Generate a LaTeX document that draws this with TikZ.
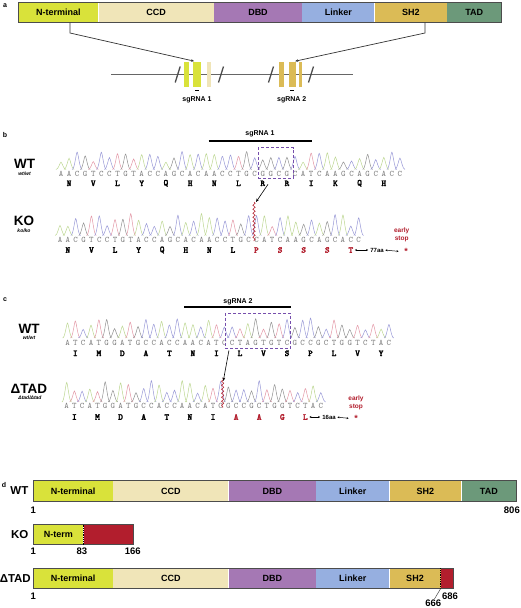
\documentclass[tikz,border=0pt]{standalone}
\usepackage{fontspec}
\setmainfont{Liberation Sans}
\newfontfamily\aafont[FakeBold=2.5]{lmmonolt10-bold.otf}
\usepackage{tikz}
\usetikzlibrary{arrows.meta,positioning,decorations.pathmorphing}

\definecolor{ntermcol}{RGB}{217,226,58}
\definecolor{ccdcol}{RGB}{240,229,184}
\definecolor{dbdcol}{RGB}{165,120,180}
\definecolor{linkcol}{RGB}{150,175,224}
\definecolor{shcol}{RGB}{219,187,86}
\definecolor{tadcol}{RGB}{108,153,122}
\definecolor{stopred}{RGB}{178,30,45}
\definecolor{boxpurple}{RGB}{118,78,172}
\definecolor{baseA}{RGB}{188,214,145}
\definecolor{baseC}{RGB}{152,152,214}
\definecolor{baseG}{RGB}{145,145,145}
\definecolor{baseT}{RGB}{226,150,165}

\newcommand{\fsz}[1]{\fontsize{#1}{#1}\selectfont}

% trace peaks and called bases of one read
\newcommand{\seqtrack}[7]{%
    \foreach \nt [count=\i from 0] in {#7} {
        \pgfmathsetmacro{\px}{#2+#3*\i}
        \pgfmathsetmacro{\pl}{\px-0.62*#3}
        \pgfmathsetmacro{\pr}{\px+0.62*#3}
        \pgfmathsetmacro{\cl}{\px-0.32*#3}
        \pgfmathsetmacro{\cr}{\px+0.32*#3}
        \pgfmathsetmacro{\ca}{\px-0.12*#3}
        \pgfmathsetmacro{\cb}{\px+0.12*#3}
        \pgfmathsetmacro{\ptop}{#4-#5*(0.4+0.6*rnd)}
        \draw[trace, draw=base\nt] (\pl,#4) .. controls (\cl,#4) and (\ca,\ptop) .. (\px,\ptop)
            .. controls (\cb,\ptop) and (\cr,#4) .. (\pr,#4);
        \node[ntletter] (#1-\i) at (\px,#6) {\nt};
    }
}
% translated residues, first one at codon #5
\newcommand{\aarow}[7]{%
    \foreach \res [count=\i from #5] in {#7}
        \node[aaletter, text=#6] (#1-\i) at ({#2+#3*(3*\i+1)},#4) {\res};
}

\tikzset{
    seg/.style={inner sep=0pt, minimum height=20pt, font=\bfseries\fsz{9}},
    barframe/.style={draw=black!70, line width=0.9pt},
    exon/.style={inner sep=0pt, minimum height=25pt},
    geneline/.style={draw=black!60, line width=0.9pt},
    genebreak/.style={draw=black!70, line width=1.3pt},
    link/.style={draw=black!80, line width=0.7pt, shorten >=3pt, -{Stealth[length=3pt,width=2.6pt]}},
    panel/.style={font=\bfseries\fsz{7}},
    guidetext/.style={font=\bfseries\fsz{7}},
    guidebar/.style={draw=black, line width=2pt},
    genotype/.style={font=\bfseries\fsz{13.5}},
    allele/.style={font=\bfseries\itshape\fsz{5}},
    trace/.style={line width=0.5pt},
    ntletter/.style={inner sep=0pt, font=\ttfamily\fsz{8.5}, text=black!50},
    aaletter/.style={inner sep=0pt, font=\aafont\fsz{9}},
    cutbox/.style={draw=boxpurple, densely dashed, line width=0.7pt, inner sep=0pt},
    cutline/.style={draw=stopred, line width=0.6pt, decorate, decoration={snake, amplitude=1.1pt, segment length=4pt}},
    cutarrow/.style={draw=black, line width=0.6pt, -{Stealth[length=3.5pt,width=2.8pt]}},
    spantext/.style={inner sep=0pt, font=\bfseries\fsz{6}},
    spanarrow/.style={draw=black, line width=0.5pt, shorten <=1.5pt, shorten >=2pt, {Stealth[length=2pt,width=2pt]}-{Stealth[length=2pt,width=2pt]}},
    stopstar/.style={inner ysep=0pt, inner xsep=3.5pt, font=\bfseries\fsz{9}, text=stopred},
    stoptext/.style={inner sep=0pt, align=center, font=\bfseries\fontsize{6.5}{8.6}\selectfont, text=stopred},
    rowlabel/.style={inner sep=0pt, font=\bfseries\fsz{11.5}},
    coordlabel/.style={inner sep=0pt, font=\bfseries\fsz{9.5}},
    junction/.style={draw=black, densely dotted, line width=0.8pt},
    leader/.style={draw=black!70, line width=0.5pt},
}

\begin{document}
\begin{tikzpicture}[x=1pt, y=-1pt]
    \useasboundingbox (0,0) rectangle (520,608);
    \pgfmathsetseed{23}

    % a
    \node[panel] (pa) at (5,6) {a};
    \node[seg, fill=ntermcol, minimum width=79.5pt, minimum height=19.5pt, anchor=west] (aN) at (18.5,12.75) {N-terminal};
    \node[seg, fill=ccdcol, minimum width=115pt, minimum height=19.5pt, right=0pt of aN] (aC) {CCD};
    \node[seg, fill=dbdcol, minimum width=88pt, minimum height=19.5pt, right=0pt of aC] (aD) {DBD};
    \node[seg, fill=linkcol, minimum width=72pt, minimum height=19.5pt, right=0pt of aD] (aL) {Linker};
    \node[seg, fill=shcol, minimum width=72pt, minimum height=19.5pt, right=0pt of aL] (aS) {SH2};
    \node[seg, fill=tadcol, minimum width=54pt, minimum height=19.5pt, right=0pt of aS] (aT) {TAD};
    \draw[barframe] (aN.north west) rectangle (aT.south east);

    \draw[geneline] (111,74.7) -- (353,74.7);
    \node[exon, fill=ntermcol, minimum width=5.3pt] (exA) at (186.7,74.5) {};
    \node[exon, fill=ntermcol, minimum width=7.4pt] (exB) at (197,74.5) {};
    \node[exon, fill=ccdcol, minimum width=4pt] (exC) at (209.3,74.5) {};
    \node[exon, fill=shcol, minimum width=5pt] (exD) at (281.8,74.5) {};
    \node[exon, fill=shcol, minimum width=7.3pt] (exE) at (292.3,74.5) {};
    \node[exon, fill=shcol, minimum width=2.7pt] (exF) at (300.7,74.5) {};
    \foreach \bx in {177.7,221,271,311}
        \draw[genebreak] (\bx-2.5,82.5) -- (\bx+2.5,66.5);
    \draw[line width=0.8pt] ([xshift=-2pt]exB.south) ++(0,3.5) -- ++(4,0);
    \draw[line width=0.8pt] ([xshift=-2pt]exE.south) ++(0,3.5) -- ++(4,0);
    \node[guidetext] (gtA) at (197,100) {sgRNA 1};
    \node[guidetext] (gtB) at (291.7,100) {sgRNA 2};

    \coordinate (lknee) at (70,33);
    \coordinate (rknee) at (425,33);
    \draw[link] (lknee |- aN.south) -- (lknee) -- (exB.north);
    \draw[link] (rknee |- aS.south) -- (rknee) -- (exE.north);

    % b
    \node[panel] (pb) at (5,135) {b};
    \node[guidetext] (gtb) at (260,134) {sgRNA 1};
    \draw[guidebar] (208.7,140.7) -- (312,140.7);
    \node[genotype] (wtb) at (24.5,164) {WT};
    \node[allele] (wtba) at (24.5,174) {wt/wt};
    \seqtrack{wsb}{61}{8.07}{169.5}{18}{174.3}{A,A,C,G,T,C,C,T,G,T,A,C,C,A,G,C,A,C,A,A,C,C,T,G,C,G,G,C,G,C,A,T,C,A,A,G,C,A,G,C,A,C,C}
    \aarow{wab}{61}{8.07}{183.3}{0}{black}{N,V,L,Y,Q,H,N,L,R,R,I,K,Q,H}
    \node[cutbox, minimum width=35pt, minimum height=30.6pt] (boxb) at (275.8,163) {};

    \node[genotype] (kob) at (24,220.7) {KO};
    \node[allele] (koba) at (24,230.7) {ko/ko};
    \seqtrack{ksb}{60}{7.86}{235.5}{22}{239.5}{A,A,C,G,T,C,C,T,G,T,A,C,C,A,G,C,A,C,A,A,C,C,T,G,C,C,A,T,C,A,A,G,C,A,G,C,A,C,C}
    \aarow{kab}{60}{7.86}{250}{0}{black}{N,V,L,Y,Q,H,N,L}
    \aarow{kab}{60}{7.86}{250}{8}{stopred}{P,S,S,S,T}
    \coordinate (cutbtop) at (254,202);
    \coordinate (cutbbot) at (254,241);
    \draw[cutline] (cutbtop) -- (cutbbot);
    \draw[cutarrow] ([xshift=-7.8pt,yshift=-5.7pt]boxb.south) -- ([xshift=2pt]cutbtop);
    \node[stoptext] (esb) at (401.7,234.8) {early\\stop};
    \node[spantext] (spanb) at (377,250) {77aa};
    \node[stopstar] (starb) at (406,251.5) {*};
    \draw[spanarrow] (kab-12.east) -- (spanb.west);
    \draw[spanarrow] (spanb.east) -- (starb.west);

    % c
    \node[panel] (pc) at (5,300) {c};
    \node[guidetext] (gtc) at (238,301.7) {sgRNA 2};
    \draw[guidebar] (184.3,307.3) -- (290.7,307.3);
    \node[genotype] (wtc) at (29,329.3) {WT};
    \node[allele] (wtca) at (29,338) {wt/wt};
    \seqtrack{wsc}{67.5}{7.84}{338}{20}{342.7}{A,T,C,A,T,G,G,A,T,G,C,C,A,C,C,A,A,C,A,T,C,C,T,A,G,T,G,T,C,G,C,C,G,C,T,G,G,T,C,T,A,C}
    \aarow{wac}{67.5}{7.84}{353.3}{0}{black}{I,M,D,A,T,N,I,L,V,S,P,L,V,Y}
    \node[cutbox, minimum width=65.4pt, minimum height=35pt] (boxc) at (258,330.8) {};

    \node[genotype] (dtc) at (28.8,389.3) {ΔTAD};
    \node[allele] (dtca) at (30,397.5) {Δtad/Δtad};
    \seqtrack{dsc}{66.7}{7.7}{402}{22}{406}{A,T,C,A,T,G,G,A,T,G,C,C,A,C,C,A,A,C,A,T,C,G,C,C,G,C,T,G,G,T,C,T,A,C}
    \aarow{dac}{66.7}{7.7}{417}{0}{black}{I,M,D,A,T,N,I}
    \aarow{dac}{66.7}{7.7}{417}{7}{stopred}{A,A,G,L}
    \coordinate (cutctop) at (222.7,378);
    \coordinate (cutcbot) at (222.7,407.5);
    \draw[cutline] (cutctop) -- (cutcbot);
    \draw[cutarrow] ([xshift=4pt,yshift=-1.7pt]boxc.south west) -- ([xshift=0.6pt,yshift=-3pt]cutctop);
    \node[stoptext] (esc) at (356,403) {early\\stop};
    \node[spantext] (spanc) at (329,417) {16aa};
    \node[stopstar] (starc) at (356,418.5) {*};
    \draw[spanarrow] (dac-10.east) -- (spanc.west);
    \draw[spanarrow] (spanc.east) -- (starc.west);

    % d
    \node[panel] (pd) at (4,485) {d};
    \node[rowlabel, anchor=east] (wtd) at (28.5,491) {WT};
    \node[seg, fill=ntermcol, minimum width=79.4pt, minimum height=20.6pt, anchor=west] (dN) at (33.3,491) {N-terminal};
    \node[seg, fill=ccdcol, minimum width=115pt, minimum height=20.6pt, right=0pt of dN] (dC) {CCD};
    \node[seg, fill=dbdcol, minimum width=87.3pt, minimum height=20.6pt, right=0pt of dC] (dD) {DBD};
    \node[seg, fill=linkcol, minimum width=72.7pt, minimum height=20.6pt, right=0pt of dD] (dL) {Linker};
    \node[seg, fill=shcol, minimum width=71.6pt, minimum height=20.6pt, right=0pt of dL] (dS) {SH2};
    \node[seg, fill=tadcol, minimum width=54.7pt, minimum height=20.6pt, right=0pt of dS] (dT) {TAD};
    \draw[barframe] (dN.north west) rectangle (dT.south east);
    \node[coordlabel] (dwt1) at (33.3,510) {1};
    \node[coordlabel, anchor=east] (dwt806) at (520,510) {806};

    \node[rowlabel, anchor=east] (kod) at (28.5,534.7) {KO};
    \node[seg, fill=ntermcol, minimum width=49.7pt, anchor=west] (kN) at (33.3,534.7) {N-term};
    \node[seg, fill=stopred, minimum width=50pt, right=0pt of kN] (kX) {};
    \draw[barframe] (kN.north west) rectangle (kX.south east);
    \draw[junction] (kN.north east) -- (kN.south east);
    \node[coordlabel] (dko1) at (33.3,551.7) {1};
    \node[coordlabel] (dko83) at (82,551.7) {83};
    \node[coordlabel] (dko166) at (132.7,551.7) {166};

    \node[rowlabel, anchor=east] (dtd) at (31,578.3) {ΔTAD};
    \node[seg, fill=ntermcol, minimum width=79.4pt, anchor=west] (tN) at (33.3,578.3) {N-terminal};
    \node[seg, fill=ccdcol, minimum width=115pt, right=0pt of tN] (tC) {CCD};
    \node[seg, fill=dbdcol, minimum width=87.3pt, right=0pt of tC] (tD) {DBD};
    \node[seg, fill=linkcol, minimum width=72.7pt, right=0pt of tD] (tL) {Linker};
    \node[seg, fill=shcol, minimum width=51pt, right=0pt of tL] (tS) {SH2};
    \node[seg, fill=stopred, minimum width=12.3pt, right=0pt of tS] (tX) {};
    \draw[barframe] (tN.north west) rectangle (tX.south east);
    \draw[junction] (tS.north east) -- (tS.south east);
    \node[coordlabel] (dtd1) at (33.3,596.7) {1};
    \node[coordlabel] (dtd686) at (450,596.7) {686};
    \node[coordlabel] (dtd666) at (433.3,602.8) {666};
    \draw[leader] ([xshift=1pt]dtd666.north) -- (tS.south east);
\end{tikzpicture}
\end{document}
